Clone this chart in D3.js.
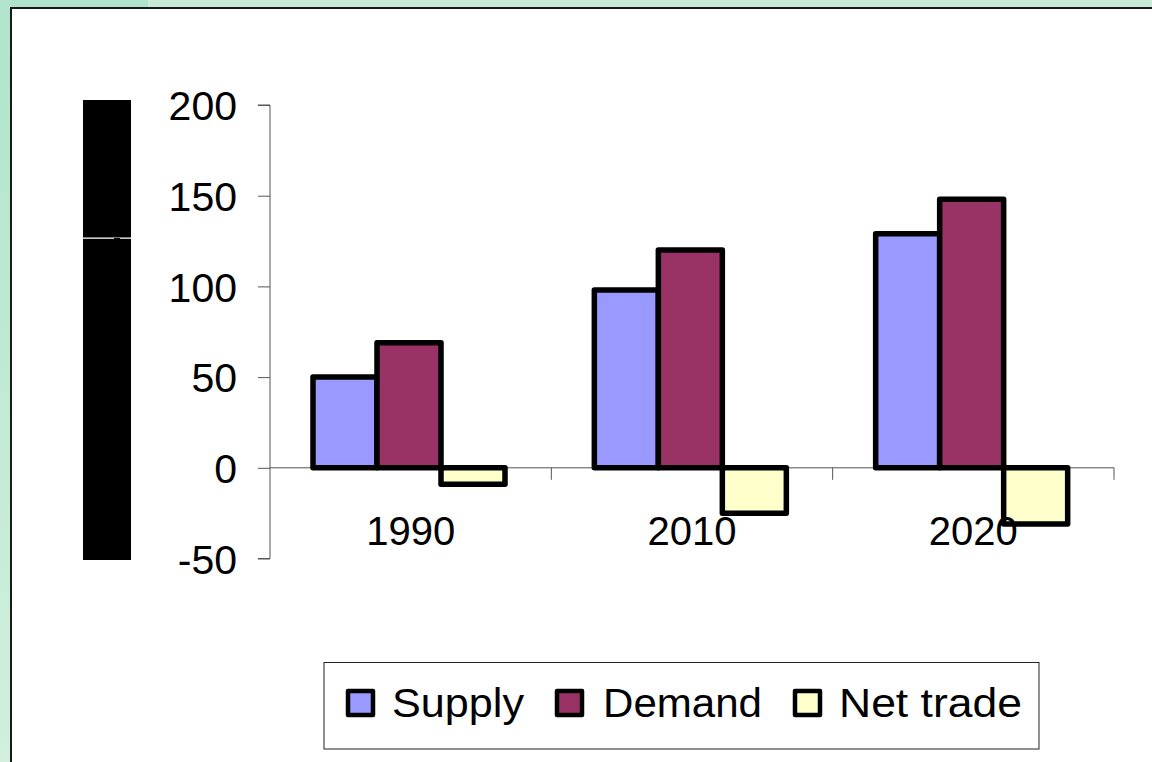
<!DOCTYPE html>
<html>
<head>
<meta charset="utf-8">
<script src="https://cdn.jsdelivr.net/npm/d3@7"></script>
<style>
  html, body { margin: 0; padding: 0; background: #c8ecd8; }
  svg { display: block; }
  text { font-family: "Liberation Sans", Arial, sans-serif; fill: #000; }
</style>
</head>
<body>
<script>
const categories = ["1990", "2010", "2020"];
const seriesNames = ["Supply", "Demand", "Net trade"];
const supply = [50, 98, 129];
const demand = [69, 120, 148];
const netTrade = [-9, -25, -31];
const yTicks = [-50, 0, 50, 100, 150, 200];
const colors = ["#9999FF", "#993366", "#FFFFCC"];

const seriesValues = [supply, demand, netTrade];

const W = 1152, H = 762;
const svg = d3.select("body").append("svg").attr("width", W).attr("height", H);

// background strips
const defs = svg.append("defs");
const grad = defs.append("linearGradient").attr("id", "lg").attr("x1", 0).attr("y1", 0).attr("x2", 0).attr("y2", 1);
grad.append("stop").attr("offset", "0%").attr("stop-color", "#b0e4cc");
grad.append("stop").attr("offset", "100%").attr("stop-color", "#d2efdf");
svg.append("rect").attr("x", 0).attr("y", 0).attr("width", W).attr("height", H).attr("fill", "#c8ecd8");
svg.append("rect").attr("x", 0).attr("y", 0).attr("width", 11).attr("height", H).attr("fill", "url(#lg)");
svg.append("rect").attr("x", 0).attr("y", 0).attr("width", 148).attr("height", 8).attr("fill", "#b0e4cc");

// white panel with dark border
svg.append("rect").attr("x", 11).attr("y", 8).attr("width", W).attr("height", H)
  .attr("fill", "#fff").attr("stroke", "#1a1a1a").attr("stroke-width", 2);

// black block (axis title area)
svg.append("rect").attr("x", 83).attr("y", 100).attr("width", 48).attr("height", 137.5).attr("fill", "#000");
svg.append("rect").attr("x", 83).attr("y", 238.8).attr("width", 48).attr("height", 321.2).attr("fill", "#000");
svg.append("rect").attr("x", 114).attr("y", 238).attr("width", 6).attr("height", 2).attr("fill", "#000");

// scales
const y = d3.scaleLinear().domain([-50, 200]).range([558.5, 105]);
const x0 = d3.scaleBand().domain(categories).range([270, 1114]).paddingInner(0).paddingOuter(0);
const x1 = d3.scaleBand().domain(seriesNames).range([43, 43 + 192]);

// y axis
const yAxis = d3.axisLeft(y).tickValues(yTicks).tickSize(12).tickPadding(21)
  .tickFormat(d => d < 0 ? "-" + Math.abs(d) : String(d));
const gy = svg.append("g").attr("transform", "translate(270,0)").call(yAxis);
gy.select(".domain").attr("stroke", "#555").attr("d", `M-12,${y(200)}H0V${y(-50)}H-12`);
gy.selectAll(".tick line").attr("stroke", "#555");
gy.selectAll(".tick text").attr("font-size", 41).attr("font-family", "Liberation Sans, Arial, sans-serif")
  .attr("dy", "0.36em").attr("fill", "#000");

// x axis at zero
const xAxisY = y(0);
svg.append("line").attr("x1", 270).attr("x2", 1114).attr("y1", xAxisY).attr("y2", xAxisY).attr("stroke", "#555");
svg.selectAll(".xtick").data(categories).join("line")
  .attr("x1", d => x0(d) + x0.bandwidth()).attr("x2", d => x0(d) + x0.bandwidth())
  .attr("y1", xAxisY).attr("y2", xAxisY + 12).attr("stroke", "#555");

// bars
const bars = [];
categories.forEach((c, i) => {
  seriesNames.forEach((s, j) => {
    bars.push({ cat: c, ser: s, v: seriesValues[j][i], color: colors[j] });
  });
});
svg.append("g").selectAll("rect").data(bars).join("rect")
  .attr("x", d => x0(d.cat) + x1(d.ser))
  .attr("width", x1.bandwidth())
  .attr("y", d => y(Math.max(0, d.v)))
  .attr("height", d => Math.abs(y(d.v) - y(0)))
  .attr("fill", d => d.color)
  .attr("stroke", "#000").attr("stroke-width", 5.5).attr("stroke-linejoin", "round");

// category labels (drawn after bars)
svg.append("g").selectAll("text").data(categories).join("text")
  .attr("x", d => x0(d) + x0.bandwidth() / 2)
  .attr("y", 545)
  .attr("text-anchor", "middle")
  .attr("font-size", 40)
  .text(d => d);

// legend
svg.append("rect").attr("x", 324).attr("y", 662.5).attr("width", 715).attr("height", 86.5)
  .attr("fill", "#fff").attr("stroke", "#222").attr("stroke-width", 1);
const legendItems = [
  { name: seriesNames[0], sx: 348, tx: 392, tw: 132 },
  { name: seriesNames[1], sx: 557, tx: 603, tw: 159 },
  { name: seriesNames[2], sx: 795, tx: 839, tw: 183 }
];
const lg = svg.append("g").selectAll("g").data(legendItems).join("g");
lg.append("rect")
  .attr("x", d => d.sx).attr("y", 691).attr("width", 25).attr("height", 24)
  .attr("fill", (d, i) => colors[i]).attr("stroke", "#000").attr("stroke-width", 4.5).attr("stroke-linejoin", "round");
lg.append("text")
  .attr("x", d => d.tx).attr("y", 717)
  .attr("font-size", 40)
  .attr("textLength", d => d.tw).attr("lengthAdjust", "spacingAndGlyphs")
  .text(d => d.name);
</script>
</body>
</html>
